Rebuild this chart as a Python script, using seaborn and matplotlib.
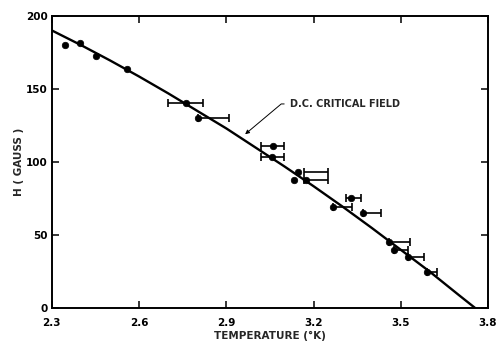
import matplotlib
matplotlib.use("Agg")
import matplotlib.pyplot as plt
import seaborn as sns
import pandas as pd

# measured data points
temp = [2.346, 2.397, 2.451, 2.560, 2.762, 2.803, 3.061, 3.057, 3.147, 3.133, 3.174,
        3.329, 3.267, 3.370, 3.460, 3.477, 3.525, 3.590]
field = [180.1, 181.7, 172.8, 163.7, 140.5, 130.3, 111.1, 103.6, 93.5, 88.0, 87.8,
         75.5, 69.3, 65.2, 45.4, 40.2, 35.4, 24.8]

# horizontal error bars (temperature ranges)
err_lo = [2.700, 2.803, 3.019, 3.019, 3.167, 3.167, 3.312, 3.267, 3.370, 3.460, 3.477, 3.525, 3.590]
err_hi = [2.820, 2.910, 3.098, 3.098, 3.250, 3.250, 3.363, 3.332, 3.432, 3.532, 3.525, 3.580, 3.624]
err_h = [140.5, 130.3, 111.1, 103.6, 93.5, 88.0, 75.5, 69.3, 65.2, 45.4, 40.2, 35.4, 24.8]

# D.C. critical field curve
curve_t = [2.30, 2.40, 2.50, 2.60, 2.70, 2.80, 2.90, 3.00, 3.10, 3.20, 3.30, 3.40, 3.50, 3.60, 3.70, 3.757]
curve_h = [190.0, 180.0, 169.5, 158.5, 147.0, 135.0, 123.0, 110.0, 97.0, 83.5, 69.5, 55.0, 40.0, 25.0, 9.0, 0.0]

xticks = [2.3, 2.6, 2.9, 3.2, 3.5, 3.8]
xticklabels = ["2.3", "2.6", "2.9", "3.2", "3.5", "3.8"]
yticks = [0, 50, 100, 150, 200]
yticklabels = ["0", "50", "100", "150", "200"]

sns.set_style("ticks")
plt.rcParams["font.family"] = ["DejaVu Sans"]
plt.rcParams["font.weight"] = "bold"

fig = plt.figure(figsize=(4.98, 3.42), dpi=100)
ax = fig.add_axes([0.1038, 0.0985, 0.8762, 0.8555])

pts = pd.DataFrame({"T": temp, "H": field})
cur = pd.DataFrame({"T": curve_t, "H": curve_h})

sns.lineplot(data=cur, x="T", y="H", ax=ax, color="black", lw=1.7, sort=True)

mid = [(a + b) / 2 for a, b in zip(err_lo, err_hi)]
half = [(b - a) / 2 for a, b in zip(err_lo, err_hi)]
ax.errorbar(mid, err_h, xerr=half, fmt="none", ecolor="black", elinewidth=1.2,
            capsize=3.2, capthick=1.2)

sns.scatterplot(data=pts, x="T", y="H", ax=ax, color="black", s=22, edgecolor="black",
                linewidth=0.5, zorder=5)

ax.set_xlim(2.3, 3.8)
ax.set_ylim(0, 200)
ax.set_xticks(xticks)
ax.set_xticklabels(xticklabels)
ax.set_yticks(yticks)
ax.set_yticklabels(yticklabels)
ax.tick_params(direction="in", length=5, width=1.1, top=True, right=True,
               labelsize=7.5, colors="black")
ax.tick_params(axis="x", pad=7)
ax.tick_params(axis="y", pad=3)
for lab in ax.get_xticklabels() + ax.get_yticklabels():
    lab.set_fontweight("bold")
for s in ax.spines.values():
    s.set_linewidth(1.4)
    s.set_color("black")

ax.set_xlabel("TEMPERATURE (°K)", fontsize=7.5, fontweight="bold", labelpad=2)
ax.set_ylabel("H ( GAUSS )", fontsize=7.5, fontweight="bold", labelpad=1)

ax.annotate("D.C. CRITICAL FIELD", xy=(2.965, 119.0), xytext=(3.120, 139.7),
            fontsize=7, fontweight="bold", ha="left", va="center",
            arrowprops=dict(arrowstyle="-|>", lw=0.7, color="black",
                            connectionstyle="angle,angleA=0,angleB=40,rad=0",
                            relpos=(0, 0.5), shrinkA=2, shrinkB=0, mutation_scale=6))

fig.savefig("out.png", dpi=100)
